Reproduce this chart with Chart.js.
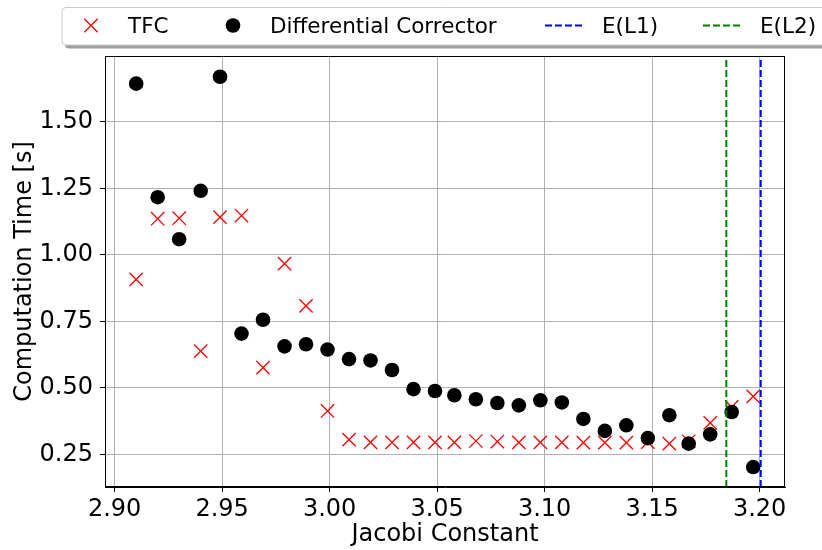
<!DOCTYPE html>
<html>
<head>
<meta charset="utf-8">
<script src="https://cdn.jsdelivr.net/npm/chart.js@4/dist/chart.umd.min.js"></script>
<style>
  html, body { margin: 0; padding: 0; background: #fff; }
  #wrap { width: 822px; height: 550px; }
</style>
</head>
<body>
<div id="wrap"><canvas id="timingChart" width="822" height="550"></canvas></div>
<script>
// Jacobi constant of each test case
const jacobi = [2.910, 2.920, 2.930, 2.940, 2.949, 2.959, 2.969, 2.979, 2.989, 2.999,
                3.009, 3.019, 3.029, 3.039, 3.049, 3.058, 3.068, 3.078, 3.088, 3.098,
                3.108, 3.118, 3.128, 3.138, 3.148, 3.158, 3.167, 3.177, 3.187, 3.197];

// computation time [s]
const tfcTime = [0.908, 1.136, 1.138, 0.638, 1.142, 1.148, 0.576, 0.967, 0.808, 0.413,
                 0.305, 0.295, 0.295, 0.295, 0.295, 0.295, 0.300, 0.298, 0.295, 0.295,
                 0.295, 0.294, 0.294, 0.294, 0.296, 0.290, 0.299, 0.368, 0.428, 0.468];
const dcTime = [1.644, 1.217, 1.059, 1.241, 1.670, 0.704, 0.756, 0.656, 0.664, 0.644,
                0.608, 0.603, 0.567, 0.495, 0.488, 0.472, 0.457, 0.443, 0.434, 0.453,
                0.445, 0.383, 0.338, 0.359, 0.311, 0.397, 0.290, 0.325, 0.409, 0.202];

// energy levels of the libration points
const energyL1 = 3.2005;
const energyL2 = 3.1845;

const xTicks = [2.90, 2.95, 3.00, 3.05, 3.10, 3.15, 3.20];
const yTicks = [0.25, 0.50, 0.75, 1.00, 1.25, 1.50];
const xRange = [2.8955, 3.2118];
const yRange = [0.127, 1.748];

const FONT = "'DejaVu Sans', sans-serif";

const toPoints = (xs, ys) => xs.map((x, i) => ({ x: x, y: ys[i] }));
const vline = x => [{ x: x, y: yRange[0] }, { x: x, y: yRange[1] }];

// top/right spines
const frame = {
  id: 'frame',
  afterDatasetsDraw(chart) {
    const { ctx, chartArea: a } = chart;
    ctx.save();
    ctx.strokeStyle = '#000';
    ctx.lineWidth = 1;
    ctx.strokeRect(a.left + 0.5, a.top + 0.5, a.right - a.left - 1, a.bottom - a.top - 1);
    ctx.restore();
  }
};

// legend strip across the top, matplotlib style
const legendItems = [
  { label: 'TFC', kind: 'cross', color: '#ff0000', x0: 71 },
  { label: 'Differential Corrector', kind: 'dot', color: '#000000', x0: 213 },
  { label: 'E(L1)', kind: 'dash', color: '#0000ff', x0: 545 },
  { label: 'E(L2)', kind: 'dash', color: '#008000', x0: 703 }
];
const topLegend = {
  id: 'topLegend',
  afterDraw(chart) {
    const ctx = chart.ctx;
    const bx = 62, by = 7.5, bw = 800, bh = 37.5, cy = 25.5, hl = 40;
    ctx.save();
    ctx.fillStyle = 'rgba(0,0,0,0.38)';
    ctx.beginPath();
    ctx.roundRect(bx + 3, by + 3.5, bw, bh, 4);
    ctx.fill();
    ctx.fillStyle = '#ffffff';
    ctx.strokeStyle = '#cccccc';
    ctx.lineWidth = 1;
    ctx.beginPath();
    ctx.roundRect(bx, by, bw, bh, 4);
    ctx.fill();
    ctx.stroke();

    legendItems.forEach(it => {
      const cx = it.x0 + hl / 2;
      ctx.strokeStyle = it.color;
      ctx.fillStyle = it.color;
      if (it.kind === 'cross') {
        const h = 6.7;
        ctx.lineWidth = 1.3;
        ctx.beginPath();
        ctx.moveTo(cx - h, cy - h); ctx.lineTo(cx + h, cy + h);
        ctx.moveTo(cx - h, cy + h); ctx.lineTo(cx + h, cy - h);
        ctx.stroke();
      } else if (it.kind === 'dot') {
        ctx.beginPath();
        ctx.arc(cx, cy, 7.3, 0, Math.PI * 2);
        ctx.fill();
      } else {
        ctx.lineWidth = 2;
        ctx.setLineDash([7, 3]);
        ctx.beginPath();
        ctx.moveTo(it.x0, cy); ctx.lineTo(it.x0 + hl, cy);
        ctx.stroke();
        ctx.setLineDash([]);
      }
      ctx.fillStyle = '#000';
      ctx.font = '21.5px ' + FONT;
      ctx.textBaseline = 'alphabetic';
      ctx.textAlign = 'left';
      ctx.fillText(it.label, it.x0 + hl + 17, 33);
    });
    ctx.restore();
  }
};

new Chart(document.getElementById('timingChart'), {
  type: 'scatter',
  data: {
    datasets: [
      {
        label: 'E(L1)',
        type: 'line',
        data: vline(energyL1),
        borderColor: '#0000ff',
        borderWidth: 2,
        borderDash: [7, 3],
        pointRadius: 0,
        order: 0
      },
      {
        label: 'E(L2)',
        type: 'line',
        data: vline(energyL2),
        borderColor: '#008000',
        borderWidth: 2,
        borderDash: [7, 3],
        pointRadius: 0,
        order: 0
      },
      {
        label: 'Differential Corrector',
        data: toPoints(jacobi, dcTime),
        pointStyle: 'circle',
        pointRadius: 7.3,
        borderWidth: 0,
        backgroundColor: '#000000',
        order: 1
      },
      {
        label: 'TFC',
        data: toPoints(jacobi, tfcTime),
        pointStyle: 'crossRot',
        pointRadius: 9.4,
        borderWidth: 1.3,
        borderColor: '#ff0000',
        backgroundColor: '#ff0000',
        order: 2
      }
    ]
  },
  options: {
    responsive: false,
    animation: false,
    devicePixelRatio: 1,
    layout: { padding: { top: 56, right: 37, left: 0, bottom: 0 } },
    plugins: {
      legend: { display: false },
      tooltip: { enabled: false }
    },
    scales: {
      x: {
        type: 'linear',
        min: xRange[0],
        max: xRange[1],
        afterBuildTicks: s => { s.ticks = xTicks.map(v => ({ value: v })); },
        afterFit: s => { s.height = 63; },
        grid: { color: '#b0b0b0', lineWidth: 1, tickLength: 5, tickColor: '#000' },
        border: { display: true, color: '#000', width: 1 },
        ticks: {
          color: '#000',
          padding: 3,
          maxRotation: 0,
          font: { family: FONT, size: 24 },
          callback: v => v.toFixed(2)
        },
        title: {
          display: true,
          text: 'Jacobi Constant',
          color: '#000',
          padding: { top: 0, bottom: 1 },
          font: { family: FONT, size: 24 }
        }
      },
      y: {
        type: 'linear',
        min: yRange[0],
        max: yRange[1],
        afterBuildTicks: s => { s.ticks = yTicks.map(v => ({ value: v })); },
        afterFit: s => { s.width = 105; },
        grid: { color: '#b0b0b0', lineWidth: 1, tickLength: 5, tickColor: '#000' },
        border: { display: true, color: '#000', width: 1 },
        ticks: {
          color: '#000',
          padding: 7,
          font: { family: FONT, size: 24 },
          callback: v => v.toFixed(2)
        },
        title: {
          display: true,
          text: 'Computation Time [s]',
          color: '#000',
          padding: { top: 10, bottom: 0 },
          font: { family: FONT, size: 24 }
        }
      }
    }
  },
  plugins: [frame, topLegend]
});
</script>
</body>
</html>
